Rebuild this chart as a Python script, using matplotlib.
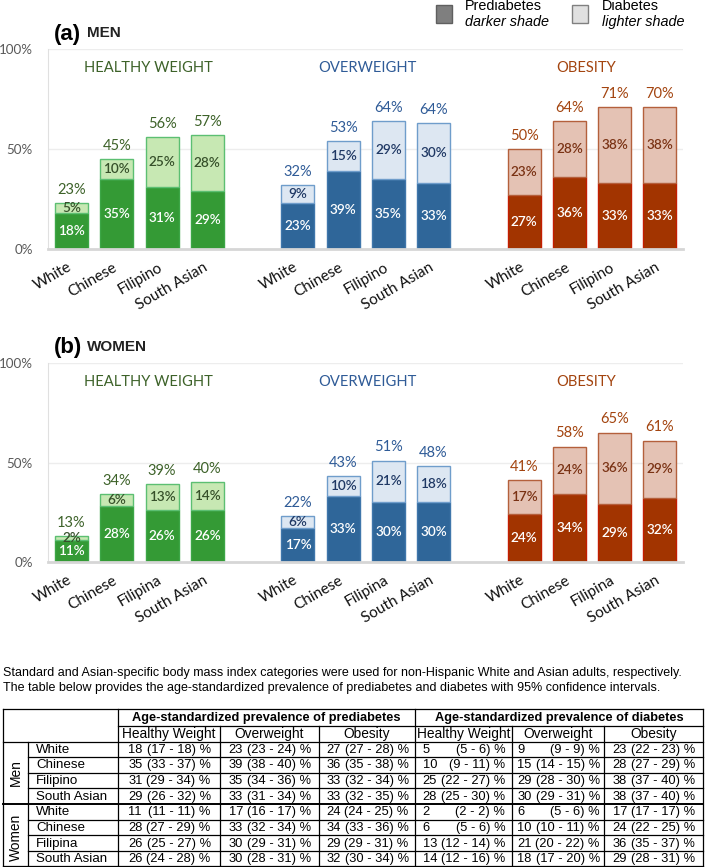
import matplotlib
matplotlib.use("Agg")
import matplotlib.pyplot as plt
from matplotlib.patches import Rectangle
import matplotlib.transforms as mtransforms

# ---------------- data ----------------
weight_groups = ["HEALTHY WEIGHT", "OVERWEIGHT", "OBESITY"]
table_groups = ["Healthy Weight", "Overweight", "Obesity"]
men_categories = ["White", "Chinese", "Filipino", "South Asian"]
women_categories = ["White", "Chinese", "Filipina", "South Asian"]
ytick_labels = ["0%", "50%", "100%"]

# rows = weight group, columns = ethnicity
men_prediabetes = [[18, 35, 31, 29], [23, 39, 35, 33], [27, 36, 33, 33]]
men_prediabetes_lo = [[17, 33, 29, 26], [23, 38, 34, 31], [27, 35, 32, 32]]
men_prediabetes_hi = [[18, 37, 34, 32], [24, 40, 36, 34], [28, 38, 34, 35]]
men_diabetes = [[5, 10, 25, 28], [9, 15, 29, 30], [23, 28, 38, 38]]
men_diabetes_lo = [[5, 9, 22, 25], [9, 14, 28, 29], [22, 27, 37, 37]]
men_diabetes_hi = [[6, 11, 27, 30], [9, 15, 30, 31], [23, 29, 40, 40]]
men_total = [[23, 45, 56, 57], [32, 53, 64, 64], [50, 64, 71, 70]]

women_prediabetes = [[11, 28, 26, 26], [17, 33, 30, 30], [24, 34, 29, 32]]
women_prediabetes_lo = [[11, 27, 25, 24], [16, 32, 29, 28], [24, 33, 29, 30]]
women_prediabetes_hi = [[11, 29, 27, 28], [17, 34, 31, 31], [25, 36, 31, 34]]
women_diabetes = [[2, 6, 13, 14], [6, 10, 21, 18], [17, 24, 36, 29]]
women_diabetes_lo = [[2, 5, 12, 12], [5, 10, 20, 17], [17, 22, 35, 28]]
women_diabetes_hi = [[2, 6, 14, 16], [6, 11, 22, 20], [17, 25, 37, 31]]
women_total = [[13, 34, 39, 40], [22, 43, 51, 48], [41, 58, 65, 61]]

sentence1 = ("Standard and Asian-specific body mass index categories were used for "
             "non-Hispanic White and Asian adults, respectively.")
sentence2 = ("The table below provides the age-standardized prevalence of prediabetes "
             "and diabetes with 95% confidence intervals.")

# ---------------- style ----------------
dark = ["#349a35", "#2f6699", "#a23400"]
light = ["#c7e8b3", "#dde7f2", "#e4c2b4"]
edge_light = ["#5cbf72", "#6f9dcb", "#b4603c"]
edge_dark = ["#3ca646", "#3f76ab", "#c41d00"]
head_col = ["#3d6229", "#2f5b97", "#a3440f"]
inner_col = ["#36502a", "#1f3864", "#7a3214"]
CH_FONT = ["Lato", "DejaVu Sans"]
TB_FONT = ["Liberation Sans", "DejaVu Sans"]

W, H = 708, 867
fig = plt.figure(figsize=(W / 100, H / 100), dpi=100)


def px_axes(left, top, right, bottom):
    return fig.add_axes([left / W, 1 - bottom / H, (right - left) / W, (bottom - top) / H])


group_positions = [[0, 1, 2, 3], [5, 6, 7, 8], [10, 11, 12, 13]]
header_x = [1.71, 6.54, 11.36]


def draw_panel(ax, pre, dia, tot, cats):
    xs_all, labels_all = [], []
    for g in range(3):
        xs = group_positions[g]
        ax.bar(xs, pre[g], width=0.73, color=dark[g], edgecolor=edge_dark[g],
               linewidth=1.0, zorder=3)
        ax.bar(xs, dia[g], bottom=pre[g], width=0.73, color=light[g],
               edgecolor=edge_light[g], linewidth=1.0, zorder=3)
        for i, x in enumerate(xs):
            p, d, t = pre[g][i], dia[g][i], tot[g][i]
            ax.text(x, p / 2, f"{p}%", ha="center", va="center", color="white",
                    fontsize=9.8, family=CH_FONT, fontweight="semibold", zorder=4)
            ax.text(x, p + d / 2, f"{d}%", ha="center", va="center", color=inner_col[g],
                    fontsize=9.8, family=CH_FONT, fontweight="semibold", zorder=4)
            ax.annotate(f"{t}%", (x, p + d), xytext=(0, 9.5), textcoords="offset points",
                        ha="center", va="center", color=head_col[g], fontsize=10.5,
                        family=CH_FONT)
        ax.text(header_x[g], 90.5, weight_groups[g], ha="center", va="center",
                color=head_col[g], fontsize=10.6, family=CH_FONT)
        xs_all += xs
        labels_all += cats
    ax.set_xlim(-0.52, 13.51)
    ax.set_ylim(0, 100)
    ax.set_yticks([0, 50, 100])
    ax.set_yticklabels(ytick_labels, color="#595959", fontsize=9.6, family=CH_FONT)
    ax.tick_params(axis="y", length=0, pad=11)
    ax.set_xticks(xs_all)
    ax.set_xticklabels(labels_all, rotation=30, ha="right", rotation_mode="anchor",
                       fontsize=11, family=CH_FONT, color="#111111")
    ax.tick_params(axis="x", length=0, pad=8)
    offset = mtransforms.ScaledTranslation(-4.5 / 100, 0, fig.dpi_scale_trans)
    for lab in ax.get_xticklabels():
        lab.set_transform(lab.get_transform() + offset)
    ax.yaxis.grid(True, color="#ededed", linewidth=1.0)
    ax.set_axisbelow(True)
    for s in ["top", "right"]:
        ax.spines[s].set_visible(False)
    ax.spines["left"].set_color("#e0e0e0")
    ax.spines["bottom"].set_color("#d6d6d6")
    ax.spines["bottom"].set_linewidth(2)
    ax.spines["bottom"].set_zorder(5)


ax_a = px_axes(48, 49, 683, 249)
draw_panel(ax_a, men_prediabetes, men_diabetes, men_total, men_categories)
ax_b = px_axes(48, 363, 683, 562)
draw_panel(ax_b, women_prediabetes, women_diabetes, women_total, women_categories)

# ---------------- overlay (titles, legend, table) ----------------
ov = fig.add_axes([0, 0, 1, 1], zorder=10)
ov.set_xlim(0, W)
ov.set_ylim(H, 0)
ov.axis("off")
ov.patch.set_visible(False)

ov.text(54, 40, "(a)", fontsize=16, fontweight="bold", family=TB_FONT, va="baseline")
ov.text(87, 37, "MEN", fontsize=11, fontweight="bold", family=TB_FONT, va="baseline",
        color="#222222")
ov.text(54, 353, "(b)", fontsize=16, fontweight="bold", family=TB_FONT, va="baseline")
ov.text(87, 351, "WOMEN", fontsize=11, fontweight="bold", family=TB_FONT, va="baseline",
        color="#222222")

# legend
ov.add_patch(Rectangle((436, 4.5), 16, 18, facecolor="#7f7f7f", edgecolor="#5f5f5f", lw=1))
ov.text(465, 6, "Prediabetes", fontsize=10.4, family=TB_FONT, va="center")
ov.text(465, 22, "darker shade", fontsize=10.4, family=TB_FONT, va="center", style="italic")
ov.add_patch(Rectangle((572, 4.5), 16, 18, facecolor="#e0e0e0", edgecolor="#808080", lw=1))
ov.text(602, 6, "Diabetes", fontsize=10.4, family=TB_FONT, va="center")
ov.text(602, 22, "lighter shade", fontsize=10.4, family=TB_FONT, va="center", style="italic")

# sentences
ov.text(3, 673, sentence1, fontsize=9.0, family=TB_FONT, va="center")
ov.text(3, 687.5, sentence2, fontsize=9.0, family=TB_FONT, va="center")

# table geometry
cols = [3, 28, 118, 220, 319, 415, 512, 604, 703]
top, h1, h2 = 709, 726, 741.5
row_h = 15.65
n_rows = 8
rows_y = [h2 + k * row_h for k in range(n_rows + 1)]
bottom = rows_y[-1]
LW = 0.9
ov.plot([cols[0], cols[-1]], [top, top], color="k", lw=LW)
ov.plot([cols[2], cols[-1]], [h1, h1], color="k", lw=LW)
ov.plot([cols[0], cols[-1]], [h2, h2], color="k", lw=LW)
for k in range(1, n_rows):
    if k == 4:
        ov.plot([cols[0], cols[-1]], [rows_y[k], rows_y[k]], color="k", lw=1.4)
    else:
        ov.plot([cols[1], cols[-1]], [rows_y[k], rows_y[k]], color="k", lw=LW)
ov.plot([cols[0], cols[-1]], [bottom - 0.5, bottom - 0.5], color="k", lw=LW)
for c in [cols[0], cols[2], cols[5], cols[-1]]:
    ov.plot([c, c], [top, bottom], color="k", lw=LW)
ov.plot([cols[1], cols[1]], [h2, bottom], color="k", lw=LW)
for c in [cols[3], cols[4], cols[6], cols[7]]:
    ov.plot([c, c], [h1, bottom], color="k", lw=LW)

FS = 9.3
ov.text((cols[2] + cols[5]) / 2, (top + h1) / 2 + 0.5, "Age-standardized prevalence of prediabetes",
        ha="center", va="center", fontsize=9.2, fontweight="bold", family=TB_FONT)
ov.text((cols[5] + cols[8]) / 2, (top + h1) / 2 + 0.5, "Age-standardized prevalence of diabetes",
        ha="center", va="center", fontsize=9.2, fontweight="bold", family=TB_FONT)
for j in range(6):
    cx = (cols[2 + j] + cols[3 + j]) / 2
    ov.text(cx, (h1 + h2) / 2 + 0.5, table_groups[j % 3], ha="center", va="center",
            fontsize=9.9, family=TB_FONT)

ov.text((cols[0] + cols[1]) / 2, (rows_y[0] + rows_y[4]) / 2, "Men", rotation=90,
        ha="center", va="center", fontsize=9.9, family=TB_FONT)
ov.text((cols[0] + cols[1]) / 2, (rows_y[4] + rows_y[8]) / 2 + 2, "Women", rotation=90,
        ha="center", va="center", fontsize=9.9, family=TB_FONT)

# measure a full-width cell string to align number left / CI right
renderer = fig.canvas.get_renderer()
probe = ov.text(0, 0, "00 (00 - 00) %", fontsize=FS, family=TB_FONT)
bb = probe.get_window_extent(renderer=renderer)
cell_w = bb.width * (W / fig.bbox.width)
probe.remove()

sexes = [
    (men_categories, [men_prediabetes, men_diabetes], [men_prediabetes_lo, men_diabetes_lo],
     [men_prediabetes_hi, men_diabetes_hi]),
    (women_categories, [women_prediabetes, women_diabetes],
     [women_prediabetes_lo, women_diabetes_lo], [women_prediabetes_hi, women_diabetes_hi]),
]
for s, (cats, vals, los, his) in enumerate(sexes):
    for i, cat in enumerate(cats):
        r = s * 4 + i
        cy = (rows_y[r] + rows_y[r + 1]) / 2 + 0.5
        ov.text(cols[1] + 8, cy, cat, ha="left", va="center", fontsize=9.6, family=TB_FONT)
        for m in range(2):
            for g in range(3):
                j = m * 3 + g
                cx = (cols[2 + j] + cols[3 + j]) / 2 + 0.5
                ov.text(cx - cell_w / 2, cy, f"{vals[m][g][i]}", ha="left", va="center",
                        fontsize=FS, family=TB_FONT)
                ov.text(cx + cell_w / 2, cy, f"({los[m][g][i]} - {his[m][g][i]}) %",
                        ha="right", va="center", fontsize=FS, family=TB_FONT)

fig.savefig("out.png", dpi=100, facecolor="white")
